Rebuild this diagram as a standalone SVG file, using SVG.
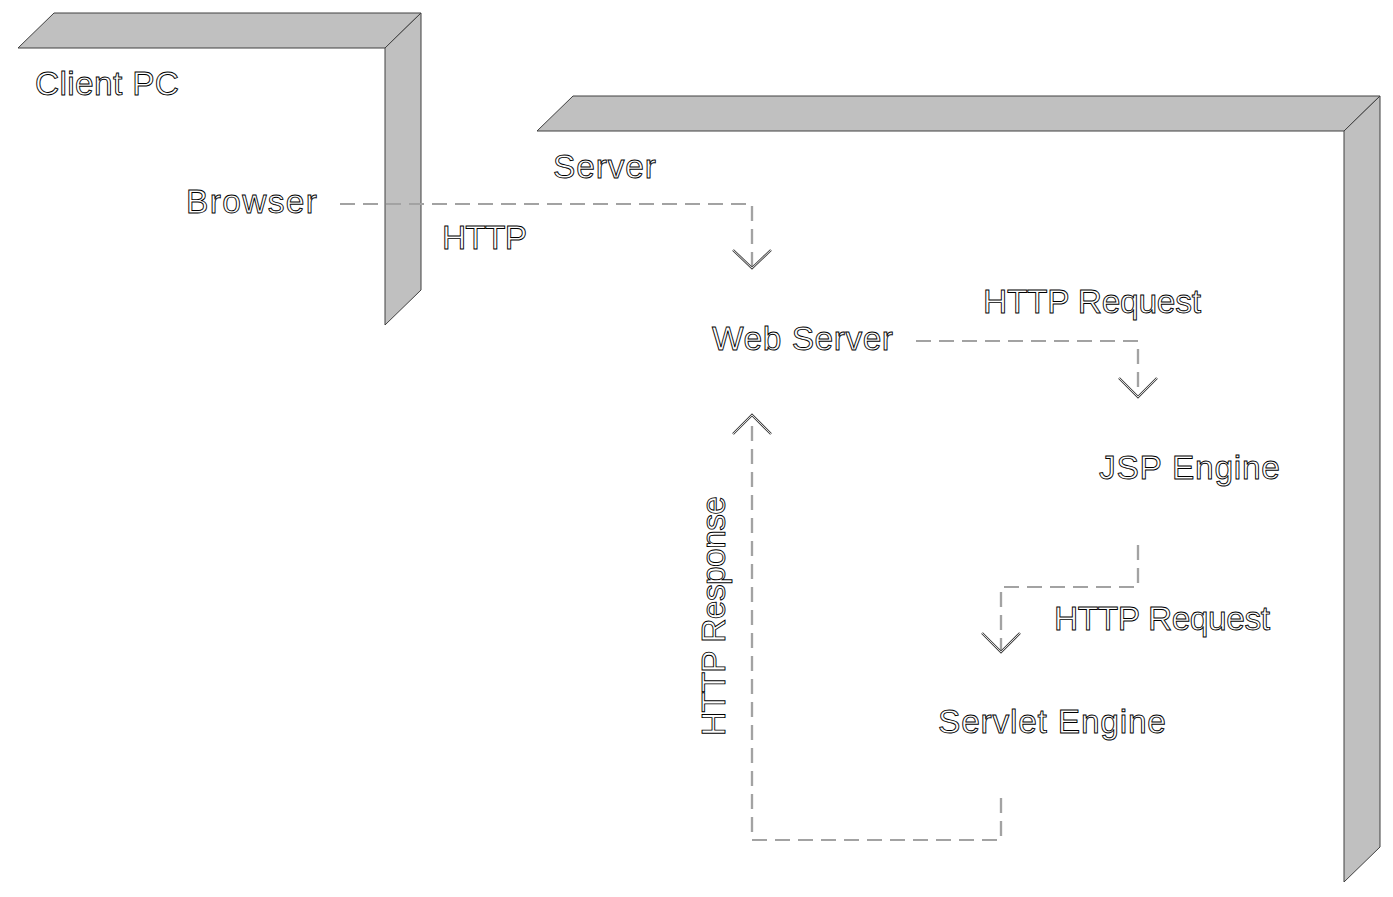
<svg xmlns="http://www.w3.org/2000/svg" width="1393" height="897" viewBox="0 0 1393 897">
<style>
.face{fill:#c0c0c0;stroke:#404040;stroke-width:1}
.front{fill:#ffffff;stroke:none}
.lbl{font-family:"Liberation Sans",Arial,sans-serif;font-size:33.5px;fill:#ffffff;stroke:#000;stroke-width:0.9}
.dashO{fill:none;stroke:#666;stroke-width:2.2;stroke-dasharray:15 8}
.dashI{fill:none;stroke:#fff;stroke-width:0.8;stroke-dasharray:15 8}
.headO{fill:none;stroke:#444;stroke-width:2.4}
.headI{fill:none;stroke:#fff;stroke-width:0.8}
</style>
<rect width="1393" height="897" fill="#ffffff"/>
<g id="client-pc">
<rect class="front" x="18" y="48" width="367" height="277"/>
<polygon class="face" points="18,48 54,13 421,13 385,48"/>
<polygon class="face" points="385,48 421,13 421,290 385,325"/>
<text class="lbl" x="35" y="95" textLength="144" lengthAdjust="spacing">Client PC</text>
</g>
<g id="browser">
<text class="lbl" x="186" y="213" textLength="131" lengthAdjust="spacing">Browser</text>
</g>
<g id="server">
<rect class="front" x="537" y="131" width="807" height="751"/>
<polygon class="face" points="537,131 573,96 1380,96 1344,131"/>
<polygon class="face" points="1344,131 1380,96 1380,847 1344,882"/>
<text class="lbl" x="553" y="178" textLength="103" lengthAdjust="spacing">Server</text>
</g>
<g id="web-server">
<text class="lbl" x="712" y="350" textLength="181" lengthAdjust="spacing">Web Server</text>
</g>
<g id="jsp-engine">
<text class="lbl" x="1099" y="479" textLength="181" lengthAdjust="spacing">JSP Engine</text>
</g>
<g id="servlet-engine">
<text class="lbl" x="938" y="733" textLength="228" lengthAdjust="spacing">Servlet Engine</text>
</g>
<g id="connectors">
<path class="dashO" d="M340,204 H752 V266"/>
<path class="dashI" d="M340,204 H752 V266"/>
<path class="headO" d="M733,250 L752,268 L771,250"/>
<path class="headI" d="M733,250 L752,268 L771,250"/>
<text class="lbl" x="442" y="249" textLength="85" lengthAdjust="spacing">HTTP</text>

<path class="dashO" d="M916,341 H1138 V395"/>
<path class="dashI" d="M916,341 H1138 V395"/>
<path class="headO" d="M1119,378 L1138,397 L1157,378"/>
<path class="headI" d="M1119,378 L1138,397 L1157,378"/>
<text class="lbl" x="983" y="313" textLength="218" lengthAdjust="spacing">HTTP Request</text>

<path class="dashO" d="M1138,545 V587 H1001 V650"/>
<path class="dashI" d="M1138,545 V587 H1001 V650"/>
<path class="headO" d="M982,633 L1001,652 L1020,633"/>
<path class="headI" d="M982,633 L1001,652 L1020,633"/>
<text class="lbl" x="1054" y="630" textLength="216" lengthAdjust="spacing">HTTP Request</text>

<path class="dashO" d="M1001,798 V840 H752 V418"/>
<path class="dashI" d="M1001,798 V840 H752 V418"/>
<path class="headO" d="M733,434 L752,415 L771,434"/>
<path class="headI" d="M733,434 L752,415 L771,434"/>
<text class="lbl" transform="translate(725,736) rotate(-90)" textLength="240" lengthAdjust="spacing">HTTP Response</text>
</g>
</svg>
